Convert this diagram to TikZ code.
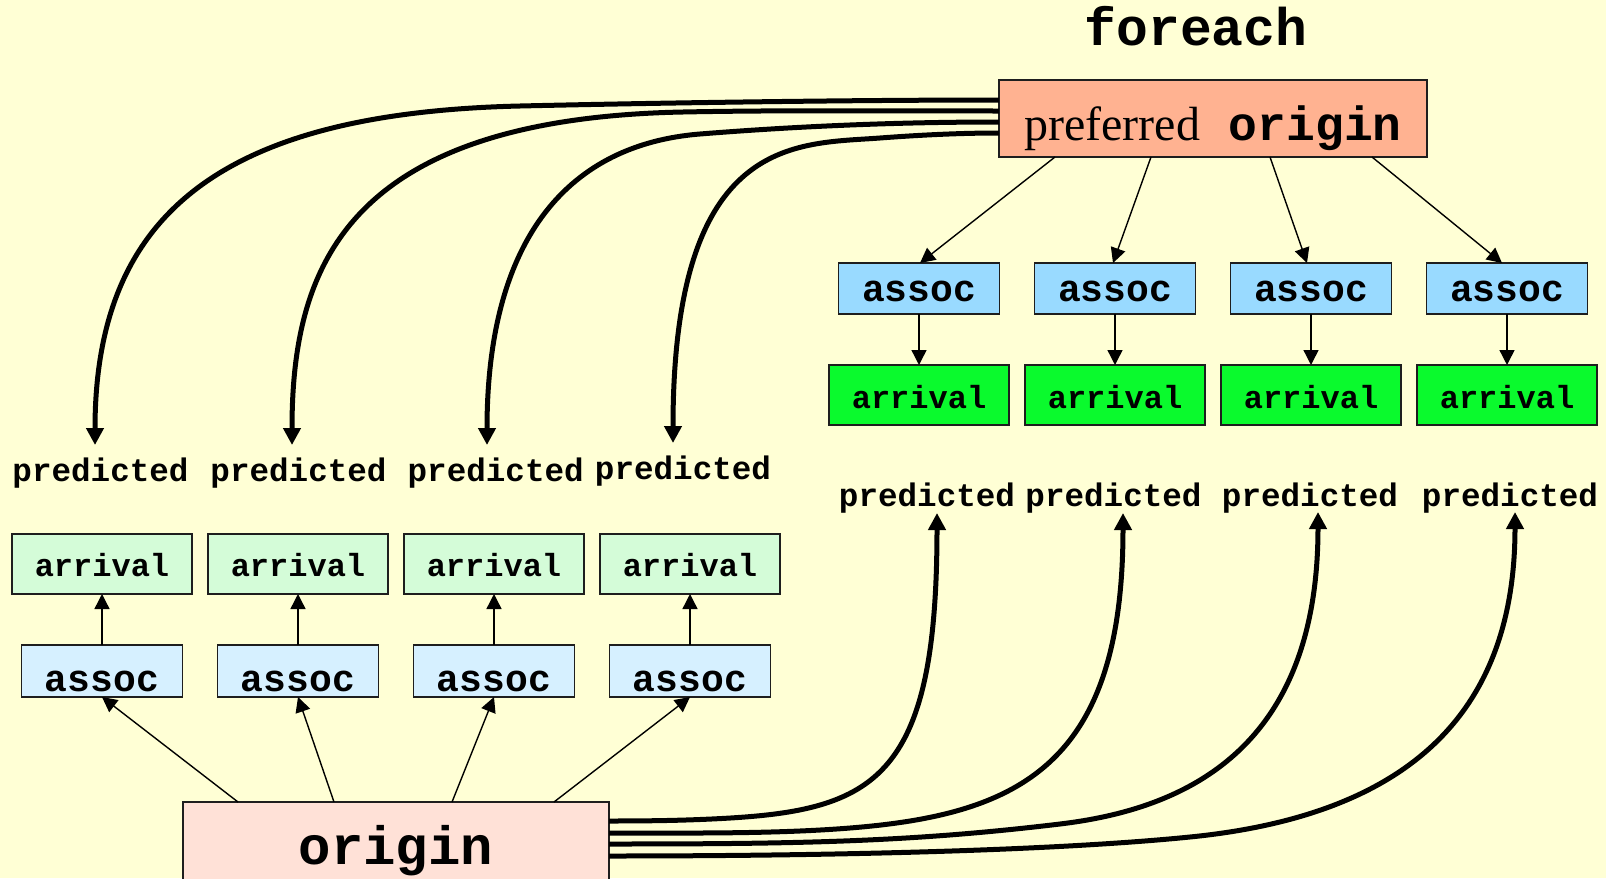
\documentclass[tikz,border=0pt]{standalone}
\usepackage{fontspec}
\setmainfont{Liberation Serif}
\setmonofont{Liberation Mono}
\usetikzlibrary{arrows.meta}

\definecolor{bgyellow}{RGB}{255,255,213}
\definecolor{prefsalmon}{RGB}{255,178,145}
\definecolor{originpink}{RGB}{255,225,215}
\definecolor{assocblue}{RGB}{153,218,255}
\definecolor{assocpale}{RGB}{214,240,255}
\definecolor{arrivalgreen}{RGB}{10,250,45}
\definecolor{arrivalpale}{RGB}{212,252,216}
\definecolor{edgegray}{RGB}{30,30,30}

\begin{document}
\begin{tikzpicture}[x=0.5pt,y=-0.5pt,
  box/.style={draw=edgegray, line width=0.75pt, inner sep=0pt, outer sep=0pt, text depth=0pt},
  mono/.style={font=\ttfamily\bfseries\fontsize{#1}{#1}\selectfont},
  assocbox/.style={box, mono=19pt, minimum width=80.5pt, minimum height=25.5pt, text height=12.5pt},
  arrivalbox/.style={box, mono=16pt, minimum width=90pt, minimum height=30pt, text height=13pt},
  predlabel/.style={inner sep=0pt, outer sep=0pt, anchor=base, mono=16.3pt},
  thinarrow/.style={line width=0.7pt, draw=black, -{Triangle[length=7.5pt,width=7.5pt]}},
  thickarrow/.style={line width=2.5pt, draw=black, -{Triangle[length=8.5pt,width=8.5pt]}}
]
\useasboundingbox[fill=bgyellow] (0,0) rectangle (1606,878);

% header and the preferred origin
\node[predlabel, mono=26.5pt] (title) at (1196,45) {foreach};
\node[box, fill=prefsalmon, minimum width=214pt, minimum height=38.5pt,
      text height=21.5pt, font=\rmfamily\fontsize{24pt}{24pt}\selectfont]
      (po) at (1213,118.5) {preferred{\ttfamily\bfseries\ origin}};

% associations and arrivals of the preferred origin
\foreach \i/\x in {1/919, 2/1115, 3/1311, 4/1507} {
  \node[assocbox, fill=assocblue] (ta\i) at (\x,288.5) {assoc};
  \node[arrivalbox, fill=arrivalgreen] (tv\i) at (\x,395) {arrival};
  \draw[thinarrow] (ta\i) -- (tv\i);
}
\draw[thinarrow] (po.south -| 1055,0) -- ([xshift=0.5pt]ta1.north);
\draw[thinarrow] (po.south -| 1151,0) -- ([xshift=-1pt]ta2.north);
\draw[thinarrow] (po.south -| 1270,0) -- ([xshift=-2pt]ta3.north);
\draw[thinarrow] (po.south -| 1372,0) -- ([xshift=-2.5pt]ta4.north);

% predicted labels
\node[predlabel] (pl1) at (100.5,481) {predicted};
\node[predlabel] (pl2) at (298.5,481) {predicted};
\node[predlabel] (pl3) at (495.7,481) {predicted};
\node[predlabel] (pl4) at (683,479) {predicted};
\node[predlabel] (pr1) at (927,506) {predicted};
\node[predlabel] (pr2) at (1113.5,506) {predicted};
\node[predlabel] (pr3) at (1310,506) {predicted};
\node[predlabel] (pr4) at (1510,506) {predicted};

% arrow tips above and below the predicted labels
\coordinate (tl1) at (95,445);
\coordinate (tl2) at (292,445);
\coordinate (tl3) at (487,445);
\coordinate (tl4) at (673,443);
\coordinate (tr1) at (937,513);
\coordinate (tr2) at (1123,513);
\coordinate (tr3) at (1318,512);
\coordinate (tr4) at (1515,512);

% the origin with its associations and arrivals
\node[box, fill=originpink, mono=27pt, minimum width=213pt, minimum height=39pt,
      text height=23pt] (og) at (396,841) {origin};
\foreach \i/\x in {1/102, 2/298, 3/494, 4/690} {
  \node[arrivalbox, fill=arrivalpale, text height=12pt] (la\i) at (\x,564) {arrival};
  \node[assocbox, fill=assocpale, minimum height=26pt, text height=20pt] (lA\i) at (\x,671) {assoc};
  \draw[thinarrow] (lA\i) -- (la\i);
}
\draw[thinarrow] (og.north -| 238,0) -- (lA1.south);
\draw[thinarrow] (og.north -| 334,0) -- (lA2.south);
\draw[thinarrow] (og.north -| 452,0) -- (lA3.south);
\draw[thinarrow] (og.north -| 554,0) -- (lA4.south);

% preferred origin -> predicted (left group)
\draw[thickarrow] (po.west |- 0,100) .. controls (850,100) and (650,103) .. (520,106)
  .. controls (220,113) and (95,215) .. (tl1);
\draw[thickarrow] (po.west |- 0,111) .. controls (900,111) and (783,110) .. (683,112)
  .. controls (343,118.8) and (292,270) .. (tl2);
\draw[thickarrow] (po.west |- 0,122) .. controls (900,122) and (800,126) .. (700,134)
  .. controls (571,144.3) and (487,235) .. (tl3);
\draw[thickarrow] (po.west |- 0,133) .. controls (960,133) and (920,135) .. (880,138)
  .. controls (796,144.3) and (673,134) .. (tl4);

% origin -> predicted (right group)
\draw[thickarrow] (og.east |- 0,821) .. controls (640,821) and (670,820.7) .. (700,819.5)
  .. controls (869,812.7) and (937,791) .. (tr1);
\draw[thickarrow] (og.east |- 0,833) .. controls (690,833) and (775,834) .. (850,828)
  .. controls (1019,814.5) and (1123,765) .. (tr2);
\draw[thickarrow] (og.east |- 0,844) .. controls (800,844) and (910,842) .. (1060,824)
  .. controls (1183,809.3) and (1318,751) .. (tr3);
\draw[thickarrow] (og.east |- 0,856) .. controls (800,856) and (1040,852) .. (1190,837)
  .. controls (1410,815) and (1515,712) .. (tr4);
\end{tikzpicture}
\end{document}
